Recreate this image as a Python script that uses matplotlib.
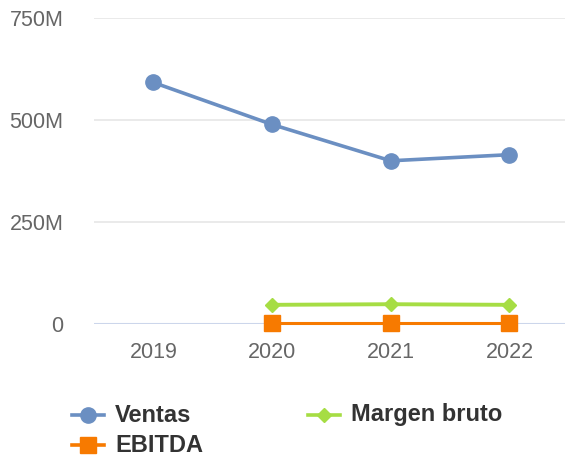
import matplotlib
matplotlib.use("Agg")
import matplotlib.pyplot as plt
from matplotlib.lines import Line2D
import numpy as np

# values (in millions)
years = ["2019", "2020", "2021", "2022"]
ventas = [592, 489, 400, 415]
margen_bruto = [None, 47, 48.5, 47]
ebitda = [None, 2.5, 2.5, 2.5]
ytick_vals = [0, 250, 500, 750]
ytick_labels = ["0", "250M", "500M", "750M"]

c_ventas = "#6b8fc2"
c_margen = "#a6dd44"
c_ebitda = "#f77a00"

plt.rcParams["font.family"] = ["Liberation Sans", "DejaVu Sans"]

W, H = 565, 457
fig = plt.figure(figsize=(W / 100, H / 100), dpi=100)

# plot area in pixels: left 94, top 18, bottom 324, band width ~118.7
left, top, bottom, band = 94, 18, 324, 118.7
ax = fig.add_axes([left / W, (H - bottom) / H, 4 * band / W, (bottom - top) / H])

x = np.arange(len(years))


def to_arr(vals):
    return np.array([np.nan if v is None else v for v in vals], dtype=float)


ax.plot(x, to_arr(ventas), color=c_ventas, lw=2.6, marker="o", ms=11,
        zorder=3, clip_on=False)
ax.plot(x, to_arr(margen_bruto), color=c_margen, lw=2.8, marker="D", ms=7.4,
        zorder=3, clip_on=False)
ax.plot(x, to_arr(ebitda), color=c_ebitda, lw=2.2, marker="s", ms=12,
        zorder=4, clip_on=False)

ax.set_xlim(-0.5, 3.5)
ax.set_ylim(0, 750)
ax.set_yticks(ytick_vals)
ax.set_yticklabels(ytick_labels)
ax.set_xticks(x)
ax.set_xticklabels(years)

for v in ytick_vals[1:]:
    ax.axhline(v, color="#e6e6e6", lw=1.2, zorder=0)
ax.axhline(0, color="#ccd6eb", lw=1.5, zorder=1)

for s in ax.spines.values():
    s.set_visible(False)
ax.tick_params(axis="both", length=0, labelsize=15.5, labelcolor="#666666")
ax.tick_params(axis="y", pad=22)
ax.tick_params(axis="x", pad=13)

# legend, built by hand to hit the reference layout
legend_items = [
    ("Ventas", c_ventas, "o", 11, 72, 415),
    ("Margen bruto", c_margen, "D", 7.4, 308, 415),
    ("EBITDA", c_ebitda, "s", 12, 72, 445),
]
for label, col, mk, ms, px, py in legend_items:
    fy = (H - py) / H
    fig.add_artist(Line2D([px / W, (px + 32) / W], [fy, fy], color=col, lw=2.6,
                          transform=fig.transFigure))
    fig.add_artist(Line2D([(px + 16) / W], [fy], color=col, marker=mk, ms=ms,
                          transform=fig.transFigure))
    fig.text((px + 43) / W, fy, label, fontsize=17, fontweight="bold",
             color="#333333", va="center", ha="left")

fig.savefig("out.png", dpi=100)
